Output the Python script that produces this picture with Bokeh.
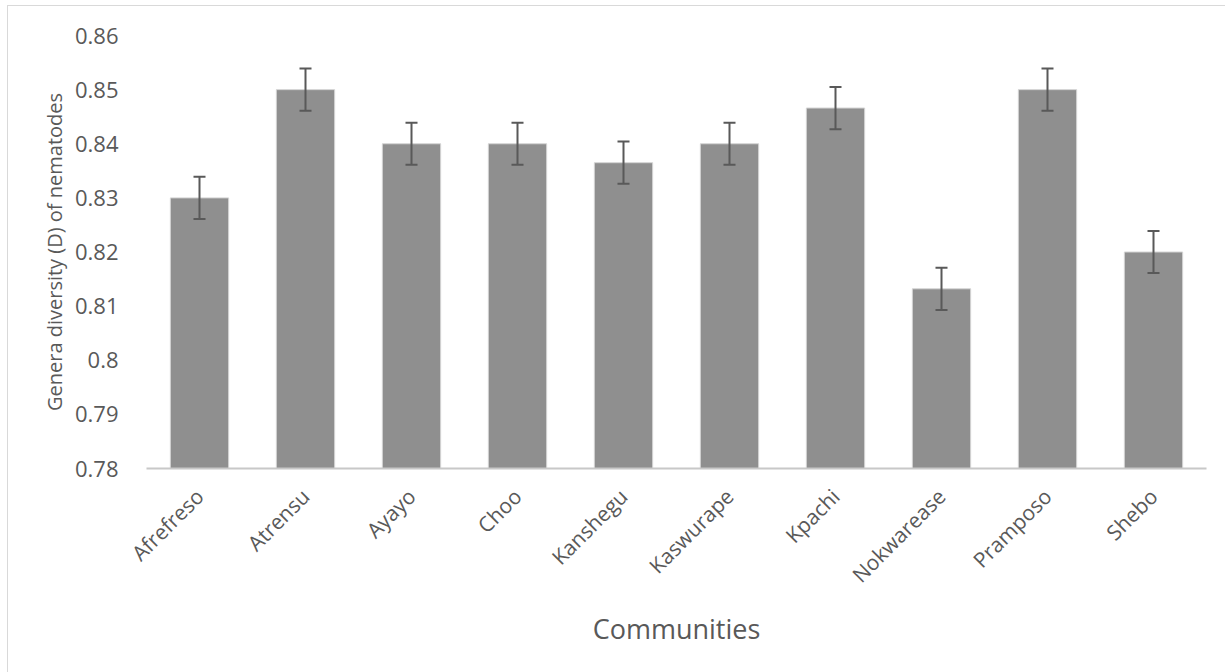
from math import pi

from bokeh.embed import file_html
from bokeh.resources import INLINE
from bokeh.plotting import figure
from bokeh.models import (ColumnDataSource, FactorRange, Range1d, FixedTicker,
                          Whisker, TeeHead)

# Genera diversity (D) of nematodes per community, with error margins
communities = ["Afrefreso", "Atrensu", "Ayayo", "Choo", "Kanshegu",
               "Kaswurape", "Kpachi", "Nokwarease", "Pramposo", "Shebo"]
diversity = [0.830, 0.850, 0.840, 0.840, 0.8365, 0.840, 0.8466, 0.8132, 0.850, 0.820]
error = [0.0039, 0.0039, 0.0039, 0.0039, 0.0039, 0.0039, 0.0039, 0.0039, 0.0039, 0.0039]

y_ticks = [0.78, 0.79, 0.80, 0.81, 0.82, 0.83, 0.84, 0.85, 0.86]
y_tick_labels = ["0.78", "0.79", "0.8", "0.81", "0.82", "0.83", "0.84", "0.85", "0.86"]

x_title = "Communities"
y_title = "Genera diversity (D) of nematodes"

FONT = "Open Sans"
TEXT = "#595959"
ERR = "#595959"

source = ColumnDataSource(dict(
    x=communities,
    top=diversity,
    upper=[d + e for d, e in zip(diversity, error)],
    lower=[d - e for d, e in zip(diversity, error)],
))

p = figure(
    x_range=FactorRange(*communities, range_padding=0),
    y_range=Range1d(y_ticks[0], y_ticks[-1]),
    width=1218, height=667,
    min_border_left=138, min_border_right=20,
    min_border_top=29, min_border_bottom=205,
    output_backend="svg", toolbar_location=None,
    margin=(5, 0, 0, 7),
    styles={"border-left": "1px solid #d9d9d9", "border-top": "1px solid #d9d9d9"},
)
p.outline_line_color = None
p.background_fill_color = "white"
p.border_fill_color = "white"
p.xgrid.visible = False
p.ygrid.visible = False

p.vbar(x="x", top="top", bottom=y_ticks[0], width=0.55, source=source,
       fill_color="#8f8f8f", line_color="#d4d4d4", line_width=1)

whisker = Whisker(
    base="x", upper="upper", lower="lower", source=source,
    line_color=ERR, line_width=2, level="overlay",
    upper_head=TeeHead(size=12, line_color=ERR, line_width=2),
    lower_head=TeeHead(size=12, line_color=ERR, line_width=2),
)
p.add_layout(whisker)

# y axis: labels only, no line or ticks
p.yaxis.ticker = FixedTicker(ticks=y_ticks)
p.yaxis.major_label_overrides = dict(zip(y_ticks, y_tick_labels))
p.yaxis.axis_line_color = None
p.yaxis.major_tick_line_color = None
p.yaxis.minor_tick_line_color = None
p.yaxis.major_label_standoff = 22
p.yaxis.major_label_text_font = FONT
p.yaxis.major_label_text_font_size = "22px"
p.yaxis.major_label_text_color = TEXT
p.yaxis.axis_label = y_title
p.yaxis.axis_label_standoff = 4
p.yaxis.axis_label_text_font = FONT
p.yaxis.axis_label_text_font_size = "20px"
p.yaxis.axis_label_text_font_style = "normal"
p.yaxis.axis_label_text_color = TEXT

# x axis: baseline with slanted category names
p.xaxis.axis_line_color = "#c8c8c8"
p.xaxis.axis_line_width = 2
p.xaxis.major_tick_line_color = None
p.xaxis.minor_tick_line_color = None
p.xaxis.major_label_orientation = pi / 4
p.xaxis.major_label_standoff = 18
p.xaxis.major_label_text_font = FONT
p.xaxis.major_label_text_font_size = "21px"
p.xaxis.major_label_text_color = TEXT
p.xaxis.axis_label = x_title
p.xaxis.axis_label_standoff = 9
p.xaxis.axis_label_text_font = FONT
p.xaxis.axis_label_text_font_size = "27px"
p.xaxis.axis_label_text_font_style = "normal"
p.xaxis.axis_label_text_color = TEXT

open("out.html", "w").write(file_html(p, INLINE))
